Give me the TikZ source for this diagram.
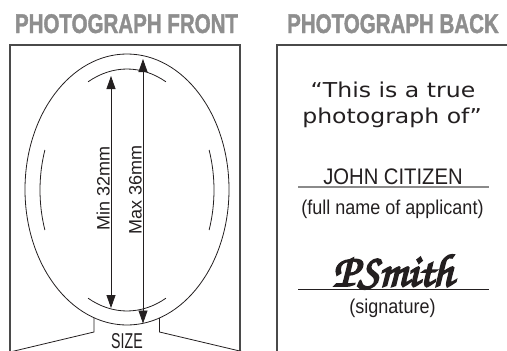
\documentclass[tikz,border=0pt]{standalone}
\usepackage{fontspec}
\setmainfont{Liberation Sans}
\newfontfamily\condfont[FakeStretch=0.76,FakeBold=1.5]{Liberation Sans Bold}
\newfontfamily\narrowfont[FakeStretch=0.9]{Liberation Sans}
\newfontfamily\sizefont[FakeStretch=0.66]{Liberation Sans}
\newfontfamily\comicfont[FakeStretch=1.15]{DejaVu Sans}
\newfontfamily\sigfont[Extension=.otf,FakeBold=4]{texgyrechorus-mediumitalic}
\usetikzlibrary{arrows.meta}
\definecolor{titlegray}{HTML}{8E8E8E}
\definecolor{framegray}{HTML}{4A4A4A}
\definecolor{rulegray}{HTML}{8A8A8A}
\definecolor{ink}{HTML}{231F20}
\begin{document}
\begin{tikzpicture}[x=1pt,y=-1pt,
  titletext/.style={font=\condfont\fontsize{27}{27}\selectfont, text=titlegray, anchor=base, inner sep=0pt},
  frameline/.style={draw=framegray, line width=1.2pt},
  guide/.style={draw=ink, line width=0.8pt},
  dimarrow/.style={draw=ink, line width=0.8pt, {Triangle[length=13pt,width=9pt]}-{Triangle[length=13pt,width=9pt]}},
  dimlabel/.style={font=\fontsize{18}{18}\selectfont, text=ink, rotate=90, anchor=base, inner sep=0pt},
  comic/.style={font=\comicfont\fontsize{20.5}{20.5}\selectfont, text=ink, anchor=base, inner sep=0pt},
  small/.style={font=\narrowfont\fontsize{20}{20}\selectfont, text=ink, anchor=base, inner sep=0pt}
]
\useasboundingbox (0,0) rectangle (507,351);
\begin{scope}
\clip (0,0) rectangle (507,351);
% titles
\node[titletext] (ftitle) at (126.5,33) {PHOTOGRAPH FRONT};
\node[titletext] (btitle) at (393,33) {PHOTOGRAPH BACK};
% frames
\draw[frameline] (10,355) -- (10,45) -- (240,45) -- (240,355);
\draw[frameline] (277,355) -- (277,45) -- (510,45);
% head outlines
\draw[guide] (127,189.5) ellipse[x radius=102, y radius=135.5];
\draw[guide] ([shift={(127,190)}]243.4:87 and 121) arc[start angle=243.4, end angle=296.6, x radius=87, y radius=121];
\draw[guide] ([shift={(127,190)}]63.4:87 and 121) arc[start angle=63.4, end angle=116.6, x radius=87, y radius=121];
\draw[guide] ([shift={(127,190)}]160.7:87 and 121) arc[start angle=160.7, end angle=199.3, x radius=87, y radius=121];
\draw[guide] ([shift={(127,190)}]-19.3:87 and 121) arc[start angle=-19.3, end angle=19.3, x radius=87, y radius=121];
% neck
\coordinate (nl1) at (94,318); \coordinate (nl2) at (94,332); \coordinate (nl3) at (10,352);
\coordinate (nr1) at (159.5,318); \coordinate (nr2) at (159.5,332); \coordinate (nr3) at (244,352);
\draw[guide] (nl1) -- (nl2) -- (nl3);
\draw[guide] (nr1) -- (nr2) -- (nr3);
\node[font=\sizefont\fontsize{21.5}{21.5}\selectfont, text=ink, anchor=base, inner sep=0pt] (size) at (127,348.5) {SIZE};
% dimension arrows
\coordinate (minT) at (111,76); \coordinate (minB) at (111,308);
\coordinate (maxT) at (143,59); \coordinate (maxB) at (143,323.5);
\draw[dimarrow] (minT) -- (minB);
\draw[dimarrow] (maxT) -- (maxB);
\node[dimlabel] (minlbl) at (109.5,188) {Min 32mm};
\node[dimlabel] (maxlbl) at (141.5,189.5) {Max 36mm};
% back text
\node[comic] (line1) at (393,97) {“This is a true};
\node[comic] (line2) at (392,123) {photograph of”};
\node[font=\narrowfont\fontsize{22.5}{22.5}\selectfont, text=ink, anchor=base, inner sep=0pt] (name) at (393,184) {JOHN CITIZEN};
\coordinate (r1a) at (298,187); \coordinate (r1b) at (489,187);
\draw[draw=rulegray, line width=1.2pt] (r1a) -- (r1b);
\node[small] (namecap) at (392.5,214) {(full name of applicant)};
\node[font=\sigfont\fontsize{46}{46}\selectfont, text=ink, anchor=base, inner sep=0pt] (sig) at (393,286) {PSmith};
\coordinate (r2a) at (298,289); \coordinate (r2b) at (489,289);
\draw[draw=ink, line width=1pt] (r2a) -- (r2b);
\node[small] (sigcap) at (392.5,313) {(signature)};
\end{scope}
\end{tikzpicture}
\end{document}
